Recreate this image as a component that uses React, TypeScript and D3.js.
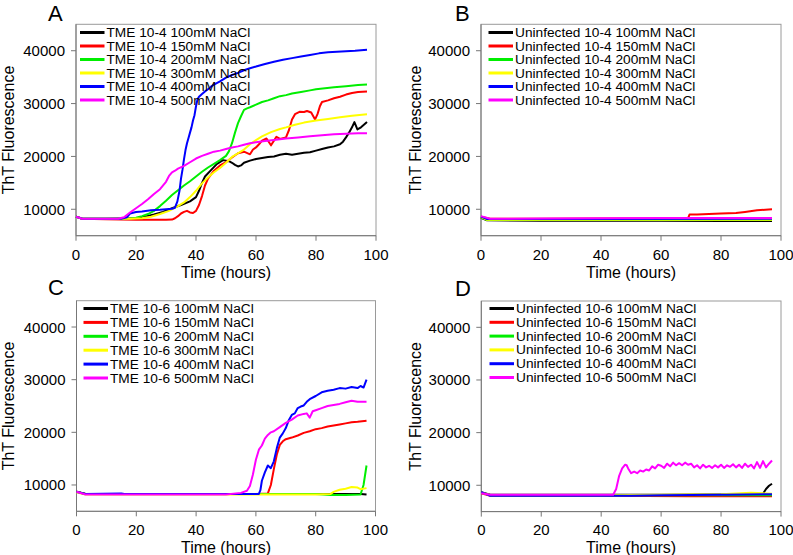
import React from "react";
import * as d3 from "d3";

type Pt = [number, number];

const xTicks = [0, 20, 40, 60, 80, 100];
const yTicks = [10000, 20000, 30000, 40000];
const seriesColors = ["#000000", "#ff0000", "#00ee00", "#ffff00", "#0000ff", "#ff00ff"];
const concentrations = ["100mM", "150mM", "200mM", "300mM", "400mM", "500mM"];
const panelLetters = ["A", "B", "C", "D"];
const panelPrefixes = ["TME 10-4", "Uninfected 10-4", "TME 10-6", "Uninfected 10-6"];

// Panel A: TME 10-4
const A_100: Pt[] = [[0,8600],[2,8250],[5,8200],[10,8200],[15,8250],[20,8300],[23,8600],[26,9000],[29,9500],[32,10200],[35,10800],[38,11500],[40,12300],[41,13500],[42,15000],[43,16200],[45,17400],[47,18600],[49,19300],[51,19100],[52,18800],[53,18400],[54,18100],[55,18300],[56,18800],[58,19200],[60,19500],[62,19700],[64,19900],[66,20000],[68,20300],[70,20500],[72,20300],[74,20500],[76,20700],[78,20800],[80,21100],[82,21400],[84,21700],[86,21900],[88,22300],[89,22800],[90,23600],[91,24500],[92,25500],[92.8,26500],[93.8,25100],[95,25500],[97,26500]];
const A_150: Pt[] = [[0,8600],[2,8200],[6,8150],[10,8100],[15,8050],[20,8000],[25,8000],[30,8000],[32,8050],[33,8300],[34,8700],[35,9200],[36,9500],[37,9700],[38,9400],[39,9300],[40,9700],[41,10800],[42,12500],[43,14500],[44,15800],[46,17300],[48,18300],[50,18900],[52,19800],[54,20600],[56,20900],[58,20400],[59,21300],[60,21700],[61,22300],[62,23000],[63.5,23400],[65,22100],[66.8,23700],[68,23300],[70,23600],[71,25000],[72,27000],[73,28000],[74.5,28450],[76,28400],[77,28600],[78.4,28300],[79.7,27000],[80.5,28000],[81.3,29500],[82,30300],[84,30600],[86,31000],[88,31300],[90,31700],[92,32000],[94,32200],[97,32300]];
const A_200: Pt[] = [[0,8600],[2,8200],[10,8200],[15,8200],[18,8250],[20,8400],[22,8700],[24,9100],[26,9700],[28,10600],[30,11600],[32,12700],[34,13600],[36,14500],[38,15300],[40,16200],[42,17100],[44,17900],[46,18600],[48,19300],[50,20100],[51,21000],[52,22500],[53,24500],[54,26300],[55,27600],[56,28800],[57,29100],[58,29300],[60,29800],[62,30300],[64,30600],[66,31000],[68,31400],[70,31600],[72,31900],[75,32200],[78,32500],[80,32700],[83,32900],[86,33100],[90,33300],[94,33500],[97,33600]];
const A_300: Pt[] = [[0,8600],[2,8200],[10,8200],[18,8200],[22,8300],[25,8600],[28,9100],[31,9700],[34,10600],[36,11300],[38,12300],[40,13500],[42,14900],[44,16000],[46,17000],[48,17800],[50,18800],[52,19900],[54,20600],[56,21300],[58,22300],[60,23100],[62,23800],[65,24600],[68,25200],[70,25500],[73,26000],[76,26400],[80,26800],[84,27100],[88,27400],[92,27700],[97,28000]];
const A_400: Pt[] = [[0,8600],[2,8200],[10,8200],[15,8200],[17,8500],[18,9200],[20,9500],[22,9600],[25,9800],[28,9900],[30,10000],[32,10100],[33,10300],[33.8,11500],[34.5,13500],[35,15800],[35.5,17500],[36,19500],[36.5,21200],[37,22500],[37.5,23500],[38,24500],[38.5,25500],[39,26800],[39.5,27800],[40,29500],[40.5,30800],[41,31300],[42,31800],[43,32300],[44,32700],[45,33200],[46,33600],[48,34200],[50,34900],[52,35400],[54,35800],[56,36300],[58,36700],[60,37000],[63,37500],[66,37900],[69,38300],[72,38600],[75,38900],[78,39200],[81,39500],[84,39700],[87,39800],[90,39900],[93,40000],[97,40200]];
const A_500: Pt[] = [[0,8600],[2,8200],[10,8200],[14,8200],[16,8500],[18,9400],[20,10200],[22,11000],[24,11900],[26,12900],[28,13800],[30,15200],[31,16300],[32,17000],[33,17300],[34,17700],[36,18200],[38,18900],[40,19600],[42,20100],[44,20500],[46,20900],[48,21100],[50,21400],[52,21700],[54,21900],[56,22200],[58,22500],[60,22700],[63,22900],[66,23100],[70,23400],[74,23600],[78,23800],[82,24000],[86,24200],[90,24300],[94,24400],[97,24400]];

// Panel B: Uninfected 10-4
const B_100: Pt[] = [[0,8400],[2,7900],[20,7850],[40,7850],[60,7850],[80,7800],[97,7800]];
const B_150: Pt[] = [[0,8600],[3,8200],[20,8200],[40,8250],[60,8250],[69,8300],[69.5,9000],[72,9000],[76,9100],[80,9200],[85,9300],[88,9500],[92,9800],[97,10000]];
const B_200: Pt[] = [[0,8500],[2,7950],[30,7950],[60,7950],[97,7950]];
const B_300: Pt[] = [[0,8500],[2,8000],[30,8000],[60,8000],[97,8000]];
const B_400: Pt[] = [[0,8600],[2,8150],[40,8150],[97,8200]];
const B_500: Pt[] = [[0,8700],[3,8200],[20,8250],[40,8300],[60,8350],[80,8350],[97,8350]];

// Panel C: TME 10-6
const C_100: Pt[] = [[0,8700],[3,8300],[30,8300],[60,8300],[85,8300],[95,8300],[97,8200]];
const C_150: Pt[] = [[0,8700],[3,8300],[40,8300],[60,8300],[64,8400],[65,10000],[66,13000],[67,15800],[68,17600],[69,18300],[70,18700],[72,19000],[74,19400],[76,19900],[78,20200],[80,20600],[82,20800],[84,21100],[86,21300],[88,21500],[90,21700],[92,21900],[94,22000],[97,22200]];
const C_200: Pt[] = [[0,8700],[3,8300],[40,8300],[80,8300],[85,8100],[90,8100],[95,8200],[96,10000],[97,13700]];
const C_300: Pt[] = [[0,8600],[3,8200],[40,8200],[80,8200],[85,8300],[86,8700],[88,9100],[90,9300],[92,9600],[94,9500],[95,9200],[97,9400]];
const C_400: Pt[] = [[0,8700],[3,8300],[15,8400],[16,8300],[40,8300],[61,8300],[61.5,9000],[62,10800],[63,12400],[64,13700],[65,13200],[66,14500],[67,17000],[68,19000],[69,19800],[70,20800],[71,22300],[72,23300],[73,23600],[74,24600],[75,24900],[76,25100],[77,25800],[78,26300],[80,26900],[82,27600],[84,27900],[86,28100],[88,28400],[90,28300],[92,28600],[94,28400],[95,28800],[96,28500],[97,30000]];
const C_500: Pt[] = [[0,8700],[3,8200],[30,8200],[50,8200],[55,8500],[57,8900],[58,9800],[59,12000],[60,14800],[61,16700],[62,17500],[63,18800],[64,19500],[65,20000],[66,20200],[68,21000],[70,21800],[72,22400],[74,23200],[76,23500],[77,23600],[78,22800],[79,24000],[80,24200],[82,24600],[84,25000],[86,25200],[88,25400],[90,25700],[92,26000],[94,25800],[97,25800]];

// Panel D: Uninfected 10-6
const D_100: Pt[] = [[0,8700],[3,8200],[30,8200],[60,8200],[90,8300],[94,8400],[95,9300],[96,9900],[97,10300]];
const D_150: Pt[] = [[0,8500],[3,8000],[40,8000],[70,7900],[97,7900]];
const D_200: Pt[] = [[0,8600],[3,8100],[40,8100],[97,8100]];
const D_300: Pt[] = [[0,8600],[3,8100],[40,8100],[80,8300],[90,8600],[97,8400]];
const D_400: Pt[] = [[0,8700],[3,8000],[30,8000],[50,8000],[60,8100],[80,8200],[97,8300]];
const D_500: Pt[] = [[0,8500],[3,8200],[44,8200],[45,9300],[46,11800],[47,13200],[48,13900],[48.5,13800],[49,13200],[50,12300],[51,12600],[52,12300],[53,12800],[54,12600],[55,13000],[56,12800],[57,13600],[58,13200],[59,13900],[60,13700],[61,13300],[62,14100],[63,13600],[64,14300],[65,13800],[66,14200],[67,13800],[68,14300],[69,13900],[70,14100],[71,13400],[72,13800],[73,13200],[74,13900],[75,13400],[76,13700],[77,13300],[78,13800],[79,13400],[80,13900],[81,13300],[82,13800],[83,13500],[84,14000],[85,13400],[86,13900],[87,13300],[88,14100],[89,13500],[90,13900],[91,13200],[92,14400],[93,13300],[94,14600],[95,13400],[96,14100],[97,14700]];

const panelData: Pt[][][] = [
  [A_100, A_150, A_200, A_300, A_400, A_500],
  [B_100, B_150, B_200, B_300, B_400, B_500],
  [C_100, C_150, C_200, C_300, C_400, C_500],
  [D_100, D_150, D_200, D_300, D_400, D_500],
];

const FONT = "'Liberation Sans', Arial, sans-serif";

const layouts = [
  { left: 76, right: 376, top: 24.3, bottom: 235.7, yTitleX: 14, letterX: 48, letterY: 20.7, legX: 80, legY: 32.5, legStep: 13.5, tickDy: 24, titleDy: 42.5 },
  { left: 481, right: 781, top: 24.3, bottom: 235.7, yTitleX: 421, letterX: 455, letterY: 20.5, legX: 488.5, legY: 32.5, legStep: 13.5, tickDy: 24, titleDy: 42.5 },
  { left: 76.5, right: 375.5, top: 300.7, bottom: 511.3, yTitleX: 14, letterX: 48, letterY: 295, legX: 83.5, legY: 308.5, legStep: 13.9, tickDy: 23.5, titleDy: 41.2 },
  { left: 481.3, right: 781, top: 301, bottom: 511.6, yTitleX: 421, letterX: 455, letterY: 295.7, legX: 489.5, legY: 308.5, legStep: 13.8, tickDy: 23.3, titleDy: 41 },
];

function Panel({ idx }: { idx: number }) {
  const L = layouts[idx];
  const x = d3.scaleLinear().domain([0, 100]).range([L.left, L.right]);
  const y = d3.scaleLinear().domain([5000, 45000]).range([L.bottom, L.top]);
  const line = d3.line<Pt>().x((d) => x(d[0])).y((d) => y(d[1]));
  const series = panelData[idx];
  const midY = (L.top + L.bottom) / 2;
  return (
    <g>
      <text x={L.letterX} y={L.letterY} fontSize={22} fontFamily={FONT} fill="#000">{panelLetters[idx]}</text>
      <rect x={L.left} y={L.top} width={L.right - L.left} height={L.bottom - L.top} fill="#fff" stroke="#9a9a9a" strokeWidth={1} />
      <line x1={L.left} x2={L.left} y1={L.top} y2={L.bottom} stroke="#777" strokeWidth={1} />
      <line x1={L.left} x2={L.right} y1={L.bottom} y2={L.bottom} stroke="#777" strokeWidth={1} />
      {yTicks.map((t) => (
        <g key={"y" + t}>
          <line x1={L.left - 5} x2={L.left} y1={y(t)} y2={y(t)} stroke="#777" />
          <text x={L.left - 11} y={y(t)} textAnchor="end" dominantBaseline="central" fontSize={15} fontFamily={FONT} fill="#000">{t}</text>
        </g>
      ))}
      {xTicks.map((t) => (
        <g key={"x" + t}>
          <line x1={x(t)} x2={x(t)} y1={L.bottom} y2={L.bottom + 5} stroke="#777" />
          <text x={x(t)} y={L.bottom + L.tickDy} textAnchor="middle" fontSize={15} fontFamily={FONT} fill="#000">{t}</text>
        </g>
      ))}
      <text x={(L.left + L.right) / 2} y={L.bottom + L.titleDy} textAnchor="middle" fontSize={16} fontFamily={FONT} fill="#000">Time (hours)</text>
      <text transform={`translate(${L.yTitleX},${midY}) rotate(-90)`} textAnchor="middle" fontSize={16} fontFamily={FONT} fill="#000">ThT Fluorescence</text>
      <g>
        {series.map((s, i) => (
          <path key={"s" + i} d={line(s) || ""} fill="none" stroke={seriesColors[i]} strokeWidth={2} strokeLinejoin="round" />
        ))}
      </g>
      {concentrations.map((c, i) => {
        const ly = L.legY + i * L.legStep;
        return (
          <g key={"l" + i}>
            <line x1={L.legX} x2={L.legX + 24.5} y1={ly} y2={ly} stroke={seriesColors[i]} strokeWidth={3} />
            <text x={L.legX + 26.5} y={ly} dominantBaseline="central" fontSize={13.7} fontFamily={FONT} fill="#000">{`${panelPrefixes[idx]} ${c} NaCl`}</text>
          </g>
        );
      })}
    </g>
  );
}

export default function App() {
  return (
    <svg width={793} height={555} style={{ position: "absolute", left: 0, top: 0, background: "#fff" }}>
      <rect x={0} y={0} width={793} height={555} fill="#fff" />
      {[0, 1, 2, 3].map((i) => (
        <Panel key={i} idx={i} />
      ))}
    </svg>
  );
}
